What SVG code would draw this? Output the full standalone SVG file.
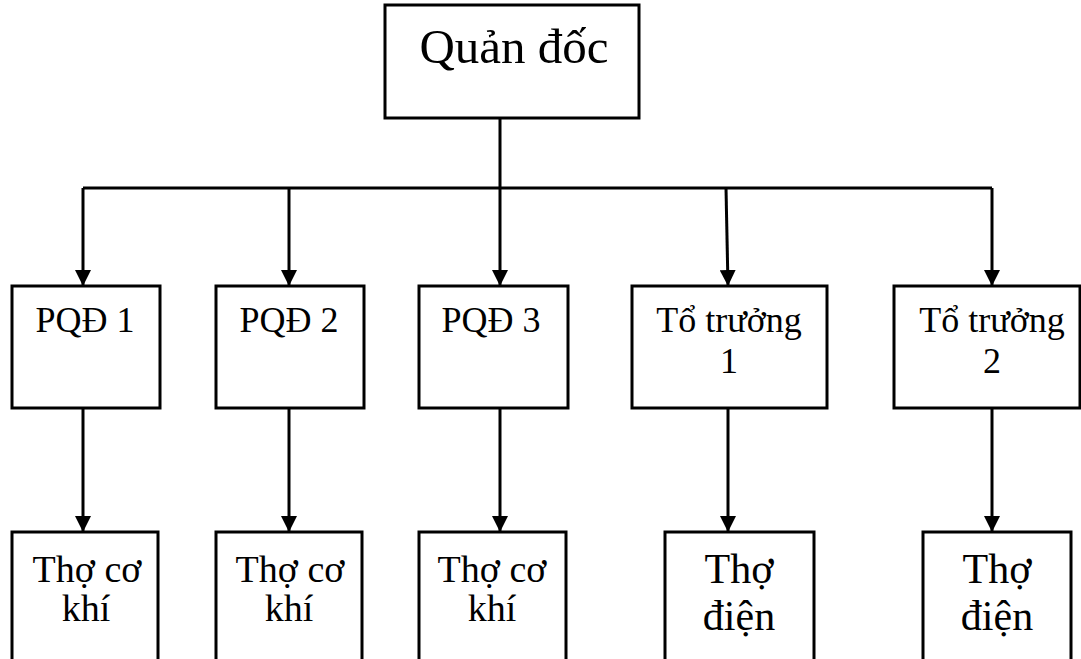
<svg xmlns="http://www.w3.org/2000/svg" width="1081" height="659" viewBox="0 0 1081 659">
  <defs>
    <marker id="arrow" viewBox="0 0 16 16" refX="16" refY="8" markerWidth="16" markerHeight="16" markerUnits="userSpaceOnUse" orient="auto">
      <path d="M0,0 L16,8 L0,16 Z" fill="#000"/>
    </marker>
  </defs>
  <style>
    .box { fill: #fff; stroke: #000; stroke-width: 3; }
    .link { fill: none; stroke: #000; stroke-width: 3; }
    .arr { marker-end: url(#arrow); }
    .lbl { fill: #000; text-anchor: middle; }
    .t-top { font-size: 49px; }
    .t-mid { font-size: 36px; }
    .t-low { font-size: 38px; }
    .t-big { font-size: 42px; }
  </style>
  <rect width="1081" height="659" fill="#fff"/>

  <!-- connectors -->
  <g id="connectors">
    <path class="link" d="M500,118 V188 M83,188 H992"/>
    <path class="link arr" d="M83,188 V286"/>
    <path class="link arr" d="M289,188 V286"/>
    <path class="link arr" d="M500,188 V286"/>
    <path class="link arr" d="M726,188 L728,286"/>
    <path class="link arr" d="M992,188 V286"/>
    <path class="link arr" d="M83,408 V532"/>
    <path class="link arr" d="M289,408 V532"/>
    <path class="link arr" d="M500,408 V532"/>
    <path class="link arr" d="M728,408 V532"/>
    <path class="link arr" d="M992,408 V532"/>
  </g>

  <g class="lbl" font-family="Liberation Serif, Times New Roman, serif">
    <!-- top -->
    <g id="quan-doc">
      <rect class="box" x="385" y="5" width="254" height="113"/>
      <text class="t-top" x="514" y="63">Quản đốc</text>
    </g>

    <!-- second level -->
    <g id="pqd-1">
      <rect class="box" x="12" y="286" width="148" height="122"/>
      <text class="t-mid" x="85" y="332">PQĐ 1</text>
    </g>
    <g id="pqd-2">
      <rect class="box" x="216" y="286" width="148" height="122"/>
      <text class="t-mid" x="289" y="332">PQĐ 2</text>
    </g>
    <g id="pqd-3">
      <rect class="box" x="419" y="286" width="149" height="122"/>
      <text class="t-mid" x="491" y="332">PQĐ 3</text>
    </g>
    <g id="to-truong-1">
      <rect class="box" x="632" y="286" width="195" height="122"/>
      <text class="t-mid" x="729" y="332">Tổ trưởng</text>
      <text class="t-mid" x="729" y="373">1</text>
    </g>
    <g id="to-truong-2">
      <rect class="box" x="894" y="286" width="186" height="122"/>
      <text class="t-mid" x="992" y="332">Tổ trưởng</text>
      <text class="t-mid" x="992" y="373">2</text>
    </g>

    <!-- third level -->
    <g id="tho-co-khi-1">
      <rect class="box" x="12" y="532" width="146" height="140"/>
      <text class="t-low" x="87" y="582">Thợ cơ</text>
      <text class="t-low" x="86" y="621">khí</text>
    </g>
    <g id="tho-co-khi-2">
      <rect class="box" x="216" y="532" width="146" height="140"/>
      <text class="t-low" x="290" y="582">Thợ cơ</text>
      <text class="t-low" x="289" y="621">khí</text>
    </g>
    <g id="tho-co-khi-3">
      <rect class="box" x="419" y="532" width="147" height="140"/>
      <text class="t-low" x="492" y="582">Thợ cơ</text>
      <text class="t-low" x="492" y="621">khí</text>
    </g>
    <g id="tho-dien-1">
      <rect class="box" x="665" y="532" width="149" height="140"/>
      <text class="t-big" x="739" y="583">Thợ</text>
      <text class="t-big" x="739" y="630">điện</text>
    </g>
    <g id="tho-dien-2">
      <rect class="box" x="923" y="532" width="148" height="140"/>
      <text class="t-big" x="997" y="583">Thợ</text>
      <text class="t-big" x="997" y="630">điện</text>
    </g>
  </g>
</svg>
